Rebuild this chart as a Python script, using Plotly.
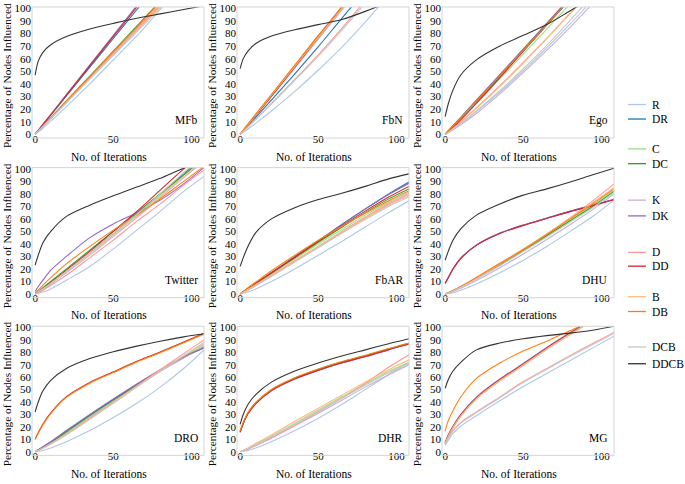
import plotly.graph_objects as go

# ---------------- data ----------------
SERIES = ["R", "DR", "C", "DC", "K", "DK", "D", "DD", "B", "DB", "DCB", "DDCB"]
COLORS = ["#aec7e8", "#1f77b4", "#98df8a", "#2ca02c", "#c5b0d5", "#9467bd",
          "#ff9896", "#d62728", "#ffbb78", "#ff7f0e", "#c7c7c7", "#333333"]
PANELS = ["MFb", "FbN", "Ego", "Twitter", "FbAR", "DHU", "DRO", "DHR", "MG"]
ITER = [0, 2, 5, 10, 20, 35, 50, 65, 80, 95, 108]
X_TICKS = [0, 50, 100]
Y_TICKS = [0, 10, 20, 30, 40, 50, 60, 70, 80, 90, 100]

# MFb
MFB_R = [0, 1.8, 4.8, 10.5, 22, 40, 59, 78, 99, 120, 138]
MFB_DR = [0, 3, 7.6, 15.2, 30.4, 53.2, 76, 98.8, 121.6, 144.4, 164]
MFB_C = [0, 2.6, 6.4, 12.8, 25.6, 44.8, 64, 83.2, 102.4, 121.6, 138]
MFB_DC = [0, 2.6, 6.6, 13.2, 26.4, 46.2, 66, 85.8, 105.6, 125.4, 142]
MFB_K = [0, 2.5, 6.3, 12.7, 25.4, 44.5, 63.5, 82.5, 101.6, 120.6, 137]
MFB_DK = [0, 3.1, 7.9, 15.7, 31.4, 55, 78.5, 102, 125.6, 149, 169]
MFB_D = [0, 2.6, 6.5, 12.9, 25.8, 45, 64.5, 84, 103, 122.5, 139]
MFB_DD = [0, 3.1, 7.8, 15.5, 31, 54.3, 77.5, 100.8, 124, 147, 167]
MFB_B = [0, 2.5, 6.3, 12.6, 25.2, 44.2, 63, 82, 101, 120, 136]
MFB_DB = [0, 2.6, 6.5, 13.1, 26.2, 45.8, 65.5, 85, 104.8, 124.5, 141]
MFB_DCB = [0, 2.5, 6.2, 12.5, 25, 43.8, 62.5, 81.2, 100, 118.8, 135]
MFB_DDCB = [47, 58, 65, 71, 77.5, 83.5, 88, 92, 95.5, 99, 102]

# FbN
FBN_R = [0, 1.6, 4.2, 8.8, 18.5, 34, 51, 69, 89, 110, 126]
FBN_DR = [0, 2.6, 6.6, 13.4, 27, 48, 69.5, 92, 114, 136, 154]
FBN_C = [0, 3, 7.6, 15.3, 30.6, 53.6, 76.5, 99.5, 122, 145, 164]
FBN_DC = [0, 3.1, 7.8, 15.6, 31, 54.5, 78, 100.5, 123, 146, 165]
FBN_K = [0, 2.9, 7.4, 14.9, 30, 52.5, 75.5, 98.5, 121, 144, 163]
FBN_DK = [0, 3, 7.6, 15.2, 30.5, 54, 77.5, 101, 124, 147, 166]
FBN_D = [0, 2.3, 5.9, 12, 24.5, 43.5, 63, 84, 106, 128, 145]
FBN_DD = [0, 3, 7.5, 15, 30, 53.5, 77, 100.5, 124, 147, 166]
FBN_B = [0, 3.1, 7.7, 15.4, 30.8, 54, 77, 100, 123, 146, 165]
FBN_DB = [0, 3.2, 8, 16, 31.5, 55, 78.5, 101, 124, 147, 166]
FBN_DCB = [0, 2.2, 5.7, 11.7, 24, 42.8, 62, 82.5, 104, 125, 142]
FBN_DDCB = [52, 60, 66, 72, 78, 83, 87, 91, 97.5, 105, 112]

# Ego
EGO_R = [0, 1.5, 4, 8.5, 18, 33.5, 50.5, 68.5, 87.5, 107.5, 124]
EGO_DR = [0, 2.5, 6.2, 12.6, 25.6, 45.6, 66, 86.5, 107, 127.5, 144]
EGO_C = [0, 2.4, 6, 12.2, 24.8, 44, 63.5, 83.5, 103.5, 123, 140]
EGO_DC = [0, 2.6, 6.6, 13.3, 26.8, 47, 67.5, 88, 108, 128, 145]
EGO_K = [0, 1.3, 3.5, 7.6, 16.5, 32, 49, 66.5, 85, 104.5, 121]
EGO_DK = [0, 2.7, 6.8, 13.5, 27, 47.3, 67.5, 88, 108.5, 129, 146]
EGO_D = [0, 1.8, 4.7, 10, 21, 38.5, 57, 76, 96, 116, 133]
EGO_DD = [0, 2, 5.4, 11.5, 24.5, 45, 66, 87, 108, 129, 147]
EGO_B = [0, 1.7, 4.5, 9.6, 20.5, 38, 56.5, 76, 96.5, 117, 134]
EGO_DB = [0, 2.6, 6.5, 13, 26.3, 46.3, 66.5, 87, 107.5, 128, 145]
EGO_DCB = [0, 1.5, 4, 8.6, 18.5, 34.5, 52, 70.5, 90.5, 111, 128]
EGO_DDCB = [14, 24, 35, 47, 59, 70, 78.5, 87, 98, 109, 117]

# Twitter
TW_R = [0, 0.5, 1.5, 4, 11, 22, 36, 51, 66, 82, 94]
TW_DR = [0, 1.5, 4, 9, 18.5, 33, 48, 64, 80, 96, 110]
TW_C = [0, 1.5, 4, 8.5, 18, 33, 48, 63, 79, 95, 108]
TW_DC = [0, 2, 5, 10, 20, 35, 50, 65, 80, 95, 108]
TW_K = [0, 1.5, 3.5, 8, 17, 31, 46, 61, 77, 93, 106]
TW_DK = [2, 6, 11, 19, 30, 45, 56, 65, 75, 88, 101]
TW_D = [0, 1, 3, 7, 15, 29, 43, 58, 72, 87, 99]
TW_DD = [0, 1.5, 4, 9, 19, 34, 50, 66, 83, 100, 114]
TW_B = [0, 1.5, 4, 8.5, 18, 32, 47, 62, 78, 94, 107]
TW_DB = [1, 3, 7, 13, 24, 38, 51, 63, 76, 90, 102]
TW_DCB = [0, 1.5, 4, 8.5, 18, 33, 48, 63.5, 80, 97, 111]
TW_DDCB = [23, 31, 41, 50, 62, 71, 78.5, 85.5, 92.5, 100.5, 106]

# FbAR
FBAR_R = [0, 0.5, 1.5, 4, 10, 20, 31, 42, 53.5, 65, 74.5]
FBAR_DR = [0, 1.7, 4.2, 8.5, 17, 29.8, 42.5, 55.5, 68, 80, 89.5]
FBAR_C = [0, 1.6, 4, 8, 16, 28, 40, 51.5, 63, 73.5, 81.5]
FBAR_DC = [0, 1.7, 4.2, 8.4, 16.6, 29, 41.3, 53.3, 65, 76, 84]
FBAR_K = [0, 1.3, 3.4, 7, 14.5, 26, 37.5, 49, 60.5, 71.5, 79.5]
FBAR_DK = [0, 1.7, 4.2, 8.5, 17, 29.8, 42.5, 55.3, 67.8, 79.5, 88.5]
FBAR_D = [0, 1.2, 3.2, 7, 14.5, 26.5, 38, 50, 61.5, 72.5, 80.5]
FBAR_DD = [0, 1.7, 4.2, 8.4, 16.8, 29.4, 42, 54.3, 66.2, 77.5, 86]
FBAR_B = [0, 1.5, 3.8, 7.6, 15.2, 26.8, 38, 49.5, 60.5, 71, 78.5]
FBAR_DB = [0, 2, 5, 9.5, 18.5, 31, 43, 54, 64.5, 74.5, 82.5]
FBAR_DCB = [0, 1.2, 3, 6.6, 14, 25.5, 37, 48.5, 59.5, 70, 77.5]
FBAR_DDCB = [22, 29, 38, 49, 60, 69, 75.5, 80.5, 86, 92, 96]

# DHU
DHU_R = [0, 0.3, 1, 3, 8, 17, 27, 38, 50, 62.5, 75]
DHU_DR = [8.5, 13, 20, 28.5, 39, 48.5, 55, 60.5, 66, 71, 75.5]
DHU_C = [0, 0.9, 2.6, 5.7, 12.5, 23.5, 35, 47, 59, 71.5, 83]
DHU_DC = [0, 0.9, 2.6, 5.7, 12.3, 23.2, 34.5, 46.5, 58.5, 70.5, 82]
DHU_K = [0, 0.6, 2, 4.6, 10.8, 21, 32, 43.5, 55.5, 68, 80]
DHU_DK = [8.6, 13.2, 20.2, 28.7, 39.2, 48.7, 55.2, 60.7, 66.2, 71.2, 75.7]
DHU_D = [0, 0.8, 2.5, 5.5, 12.5, 24, 35.5, 48, 61, 75, 88]
DHU_DD = [8.4, 12.9, 19.8, 28.3, 38.8, 48.3, 54.8, 60.3, 65.8, 70.8, 75.3]
DHU_B = [0, 1, 2.8, 6, 13, 24.5, 36, 48, 60.5, 73.5, 85]
DHU_DB = [0, 1, 2.8, 6, 13.2, 24.5, 35.5, 47.5, 60, 72.5, 84]
DHU_DCB = [0, 0.8, 2.4, 5.3, 12, 22.5, 34, 45.5, 57.5, 69.5, 81]
DHU_DDCB = [27, 34, 43, 52, 63, 72, 79, 84, 89.5, 95.5, 100.5]

# DRO
DRO_R = [0, 0.3, 1, 3, 8, 17, 27.5, 39, 52, 67, 82]
DRO_DR = [0, 1.5, 3.8, 7.8, 16.5, 29.5, 42, 54, 65.5, 76, 83.5]
DRO_C = [0, 1.2, 3.3, 7, 15, 28, 40.5, 53, 65, 76.5, 86]
DRO_DC = [0, 1.4, 3.6, 7.5, 16, 29, 41.5, 53.5, 65.5, 76, 84.5]
DRO_K = [0, 1.1, 3, 6.6, 14.5, 27.5, 40, 52.5, 64.5, 75.5, 85]
DRO_DK = [0, 1.5, 4, 8, 17, 30, 42.5, 54.5, 66, 76.5, 83.5]
DRO_D = [0, 1, 3, 6.5, 14, 27, 40, 53, 66, 79, 90]
DRO_DD = [10.3, 15.3, 22.3, 31.3, 44.3, 55.8, 64.3, 72.8, 80.3, 88.3, 95.3]
DRO_B = [0, 1, 2.8, 6.3, 14, 26.5, 39.5, 52.5, 65, 77, 87]
DRO_DB = [9.7, 14.7, 21.7, 30.7, 43.7, 55.2, 63.7, 72.2, 79.7, 87.7, 94.7]
DRO_DCB = [0, 0.9, 2.7, 6, 13.5, 26, 39, 52, 65, 77.5, 88]
DRO_DDCB = [32, 40, 49, 57.5, 67, 75, 80.5, 85, 89, 92.5, 95]

# DHR
DHR_R = [0, 0.3, 1, 3, 8, 17, 27, 38, 50, 62, 72]
DHR_DR = [16, 23, 31, 39, 49.5, 59, 66, 72, 77, 82.5, 87]
DHR_C = [0, 1, 2.5, 6, 12.5, 23, 33.5, 44, 54.5, 64.5, 72]
DHR_DC = [16.3, 23.3, 31.3, 39.3, 49.8, 59.3, 66.3, 72.3, 77.3, 82.8, 87.3]
DHR_K = [0, 0.8, 2, 5, 11, 21, 31, 41.5, 52, 62, 70]
DHR_DK = [15.5, 22.5, 30.5, 38.5, 49, 58.5, 65.5, 71.5, 76.5, 82, 86.5]
DHR_D = [0, 0.8, 2, 5, 11, 21, 32, 43, 55, 68, 78]
DHR_DD = [15.7, 22.7, 30.7, 38.7, 49.2, 58.7, 65.7, 71.7, 76.7, 82.2, 86.7]
DHR_B = [0, 1.2, 3, 6.5, 13.5, 24.5, 35, 45.5, 56, 66, 74]
DHR_DB = [16.6, 23.6, 31.6, 39.6, 50.1, 59.6, 66.6, 72.6, 77.6, 83.1, 87.6]
DHR_DCB = [0, 1, 2.5, 5.5, 12, 22, 32.5, 43, 53.5, 63.5, 71]
DHR_DDCB = [22, 30, 38, 46, 56, 65, 71.5, 77, 82, 87, 91]

# MG
MG_R = [5, 9, 14.5, 20.5, 29, 41, 52.5, 63, 73.5, 84, 93]
MG_DR = [6.8, 12.6, 19.6, 29, 43, 57.5, 70, 83, 95, 106.5, 116]
MG_C = [6.7, 12.4, 19.4, 28.8, 42.7, 57.2, 69.7, 82.6, 94.6, 106, 115.5]
MG_DC = [6.9, 12.8, 19.8, 29.2, 43.2, 57.7, 70.2, 83.2, 95.2, 106.7, 116.5]
MG_K = [6.6, 12.3, 19.3, 28.6, 42.5, 57, 69.5, 82.4, 94.4, 105.8, 115.3]
MG_DK = [7.4, 13.5, 20.5, 30, 44, 58.5, 71, 84, 96, 107.5, 117.5]
MG_D = [6, 11, 17, 23.5, 32, 44, 56.5, 67, 77.5, 87.5, 96]
MG_DD = [6.9, 12.9, 19.9, 29.4, 43.4, 57.9, 70.4, 83.4, 95.4, 106.9, 116.9]
MG_B = [6.8, 12.5, 19.5, 28.9, 42.8, 57.3, 69.8, 82.8, 94.8, 106.3, 116]
MG_DB = [16.5, 25, 33, 44, 59, 71.5, 81, 89, 97.5, 106, 112]
MG_DCB = [5.8, 10.6, 16.5, 23, 31.5, 43.5, 55.8, 66.3, 76.8, 86.8, 95.3]
MG_DDCB = [51, 58, 65, 72, 82, 87.5, 91, 93.5, 95.5, 98, 101]

PANEL_DATA = [
    [MFB_R, MFB_DR, MFB_C, MFB_DC, MFB_K, MFB_DK, MFB_D, MFB_DD, MFB_B, MFB_DB, MFB_DCB, MFB_DDCB],
    [FBN_R, FBN_DR, FBN_C, FBN_DC, FBN_K, FBN_DK, FBN_D, FBN_DD, FBN_B, FBN_DB, FBN_DCB, FBN_DDCB],
    [EGO_R, EGO_DR, EGO_C, EGO_DC, EGO_K, EGO_DK, EGO_D, EGO_DD, EGO_B, EGO_DB, EGO_DCB, EGO_DDCB],
    [TW_R, TW_DR, TW_C, TW_DC, TW_K, TW_DK, TW_D, TW_DD, TW_B, TW_DB, TW_DCB, TW_DDCB],
    [FBAR_R, FBAR_DR, FBAR_C, FBAR_DC, FBAR_K, FBAR_DK, FBAR_D, FBAR_DD, FBAR_B, FBAR_DB, FBAR_DCB, FBAR_DDCB],
    [DHU_R, DHU_DR, DHU_C, DHU_DC, DHU_K, DHU_DK, DHU_D, DHU_DD, DHU_B, DHU_DB, DHU_DCB, DHU_DDCB],
    [DRO_R, DRO_DR, DRO_C, DRO_DC, DRO_K, DRO_DK, DRO_D, DRO_DD, DRO_B, DRO_DB, DRO_DCB, DRO_DDCB],
    [DHR_R, DHR_DR, DHR_C, DHR_DC, DHR_K, DHR_DK, DHR_D, DHR_DD, DHR_B, DHR_DB, DHR_DCB, DHR_DDCB],
    [MG_R, MG_DR, MG_C, MG_DC, MG_K, MG_DK, MG_D, MG_DD, MG_B, MG_DB, MG_DCB, MG_DDCB],
]

# ---------------- layout ----------------
W, H = 685, 484
FONT = "Liberation Serif"
COL_PX = [(32, 204), (237, 409), (442, 614)]
ROW_PX = [(2, 135), (165, 297), (326, 457)]
XTITLE_PY = [154, 315, 476]
LEGEND_PY = [101, 115.7, 146, 161, 198, 214, 251, 265, 296, 311, 347, 364]
FRAME_COLOR = "#d4d4d4"

fig = go.Figure()
layout = {}
annotations = []
shapes = []

for i, pname in enumerate(PANELS):
    r, c = divmod(i, 3)
    n = i + 1
    xa = "x" if n == 1 else f"x{n}"
    ya = "y" if n == 1 else f"y{n}"
    for s, vals in enumerate(PANEL_DATA[i]):
        fig.add_trace(go.Scatter(
            x=ITER, y=vals, mode="lines", name=SERIES[s],
            line=dict(color=COLORS[s], width=1.1, shape="spline", smoothing=0.8),
            xaxis=xa, yaxis=ya, showlegend=False, hoverinfo="skip"))
    x0, x1 = COL_PX[c]
    y0, y1 = ROW_PX[r]
    axis_common = dict(showline=False, showgrid=False, zeroline=False, ticks="",
                       tickfont=dict(family=FONT, size=11, color="black"))
    # x tick labels sit right on the frame's bottom edge, as in the reference
    layout["xaxis" if n == 1 else f"xaxis{n}"] = dict(
        domain=[x0 / W, x1 / W], anchor="free", position=1 - (y1 - 7.5) / H,
        range=[-2, 108],
        tickmode="array", tickvals=X_TICKS, ticktext=[str(v) for v in X_TICKS],
        **axis_common)
    layout["yaxis" if n == 1 else f"yaxis{n}"] = dict(
        domain=[1 - y1 / H, 1 - y0 / H], anchor=xa, range=[-3, 101],
        tickmode="array", tickvals=Y_TICKS, ticktext=[str(v) for v in Y_TICKS],
        **axis_common)
    xdom = f"{xa} domain"
    ydom = f"{ya} domain"
    shapes.append(dict(type="rect", xref=xdom, yref=ydom, x0=0, x1=1, y0=0, y1=1,
                       line=dict(color=FRAME_COLOR, width=1), layer="above"))
    annotations.append(dict(text=pname, xref=xdom, yref=ydom, x=0.977, y=0.135,
                            xanchor="right", yanchor="middle", showarrow=False,
                            font=dict(family=FONT, size=11.5, color="black")))
    annotations.append(dict(text="Percentage of Nodes Influenced", xref=xdom, yref=ydom,
                            x=0, y=0.5, xshift=-25, yshift=-3.5, textangle=-90,
                            xanchor="center", yanchor="middle", showarrow=False,
                            font=dict(family=FONT, size=11.3, color="black")))
    annotations.append(dict(text="No. of Iterations", xref=xdom, yref="paper",
                            x=0.445, y=1 - XTITLE_PY[r] / H,
                            xanchor="center", yanchor="middle", showarrow=False,
                            font=dict(family=FONT, size=11.5, color="black")))

# legend (manual, matching the reference's grouped spacing)
for s, name in enumerate(SERIES):
    yy = 1 - LEGEND_PY[s] / H
    shapes.append(dict(type="line", xref="paper", yref="paper",
                       x0=628 / W, x1=646 / W, y0=yy, y1=yy,
                       line=dict(color=COLORS[s], width=1.3)))
    annotations.append(dict(text=name, xref="paper", yref="paper", x=650 / W, y=yy,
                            xanchor="left", yanchor="middle", showarrow=False,
                            font=dict(family=FONT, size=11.5, color="black")))

fig.update_layout(
    width=W, height=H, margin=dict(l=0, r=0, t=0, b=0),
    font=dict(family=FONT, size=11, color="black"),
    paper_bgcolor="white", plot_bgcolor="white", showlegend=False,
    annotations=annotations, shapes=shapes, **layout)

fig.write_html("out.html", config={"displayModeBar": False},
               post_script="document.body.style.margin='0';document.body.style.padding='0';")
